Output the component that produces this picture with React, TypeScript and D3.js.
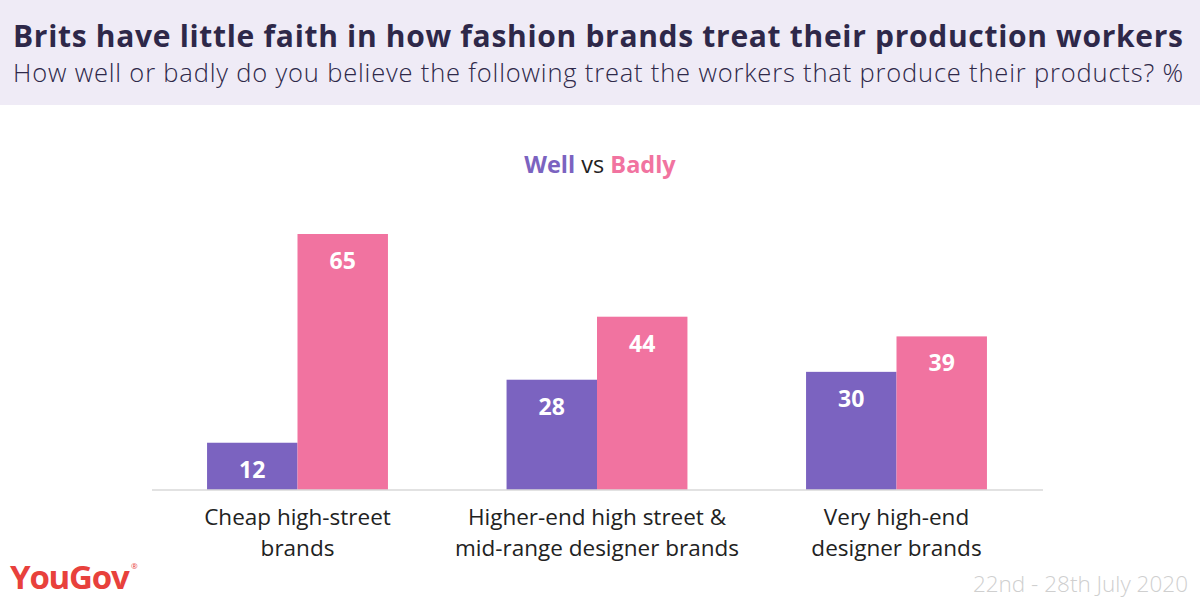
import React from "react";
import * as d3 from "d3";

const categories = [
  ["Cheap high-street", "brands"],
  ["Higher-end high street &", "mid-range designer brands"],
  ["Very high-end", "designer brands"],
];
const seriesNames = ["Well", "Badly"];
const wellValues = [12, 28, 30];
const badlyValues = [65, 44, 39];
const colors = ["#7b63c0", "#f173a0"];

const W = 1200, H = 600;
const FONT = "'Open Sans', Lato, sans-serif";

export default function App() {
  const ids = categories.map((_, i) => String(i));
  const x0 = d3.scaleBand<string>().domain(ids).range([147.75, 1046.25]).paddingInner(0.396).paddingOuter(0.198);
  const x1 = d3.scaleBand<string>().domain(seriesNames).range([0, x0.bandwidth()]);
  const y = d3.scaleLinear().domain([0, 65]).range([490, 234]);
  const data = [wellValues, badlyValues];

  return (
    <svg width={W} height={H} style={{ display: "block", position: "absolute", left: 0, top: 0 }} fontFamily={FONT}>
      <rect x={0} y={0} width={W} height={H} fill="#fff" />
      <rect x={0} y={0} width={W} height={105} fill="#efebf6" />
      <text x={13} y={47} fontSize={30} fontWeight={700} fill="#2e2849" textLength={1170} lengthAdjust="spacing">
        Brits have little faith in how fashion brands treat their production workers
      </text>
      <text x={13} y={82} fontSize={25.5} fontWeight={300} fill="#2e2849" textLength={1170} lengthAdjust="spacing">
        How well or badly do you believe the following treat the workers that produce their products? %
      </text>

      <text x={600} y={173} textAnchor="middle" fontSize={23.5} fontWeight={700}>
        <tspan fill={colors[0]}>Well</tspan>
        <tspan fill="#222" fontWeight={400}> vs </tspan>
        <tspan fill={colors[1]}>Badly</tspan>
      </text>

      {ids.map((id, i) => (
        <g key={id} transform={`translate(${x0(id)},0)`}>
          {seriesNames.map((s, j) => {
            const v = data[j][i];
            const bx = x1(s)!;
            return (
              <g key={s}>
                <rect x={bx} y={y(v)} width={x1.bandwidth()} height={y(0) - y(v)} fill={colors[j]} />
                <text x={bx + x1.bandwidth() / 2} y={y(v) + 35} textAnchor="middle" fontSize={23} fontWeight={700} fill="#fff">
                  {v}
                </text>
              </g>
            );
          })}
          <text x={x0.bandwidth() / 2} y={525} textAnchor="middle" fontSize={22.5} fill="#222">
            {categories[i].map((line, k) => (
              <tspan key={k} x={x0.bandwidth() / 2} dy={k === 0 ? 0 : 31}>
                {line}
              </tspan>
            ))}
          </text>
        </g>
      ))}
      <line x1={152} x2={1043} y1={y(0)} y2={y(0)} stroke="#d9d9d9" strokeWidth={1.5} />

      <text x={10} y={589} fontSize={33} fontWeight={700} fill="#e8413c" letterSpacing={-1.2}>
        YouGov
      </text>
      <text x={131} y={569} fontSize={8} fill="#e8413c">®</text>
      <text x={1188} y={592} textAnchor="end" fontSize={22.5} fontWeight={300} fill="#cfcfcf">
        22nd - 28th July 2020
      </text>
    </svg>
  );
}
